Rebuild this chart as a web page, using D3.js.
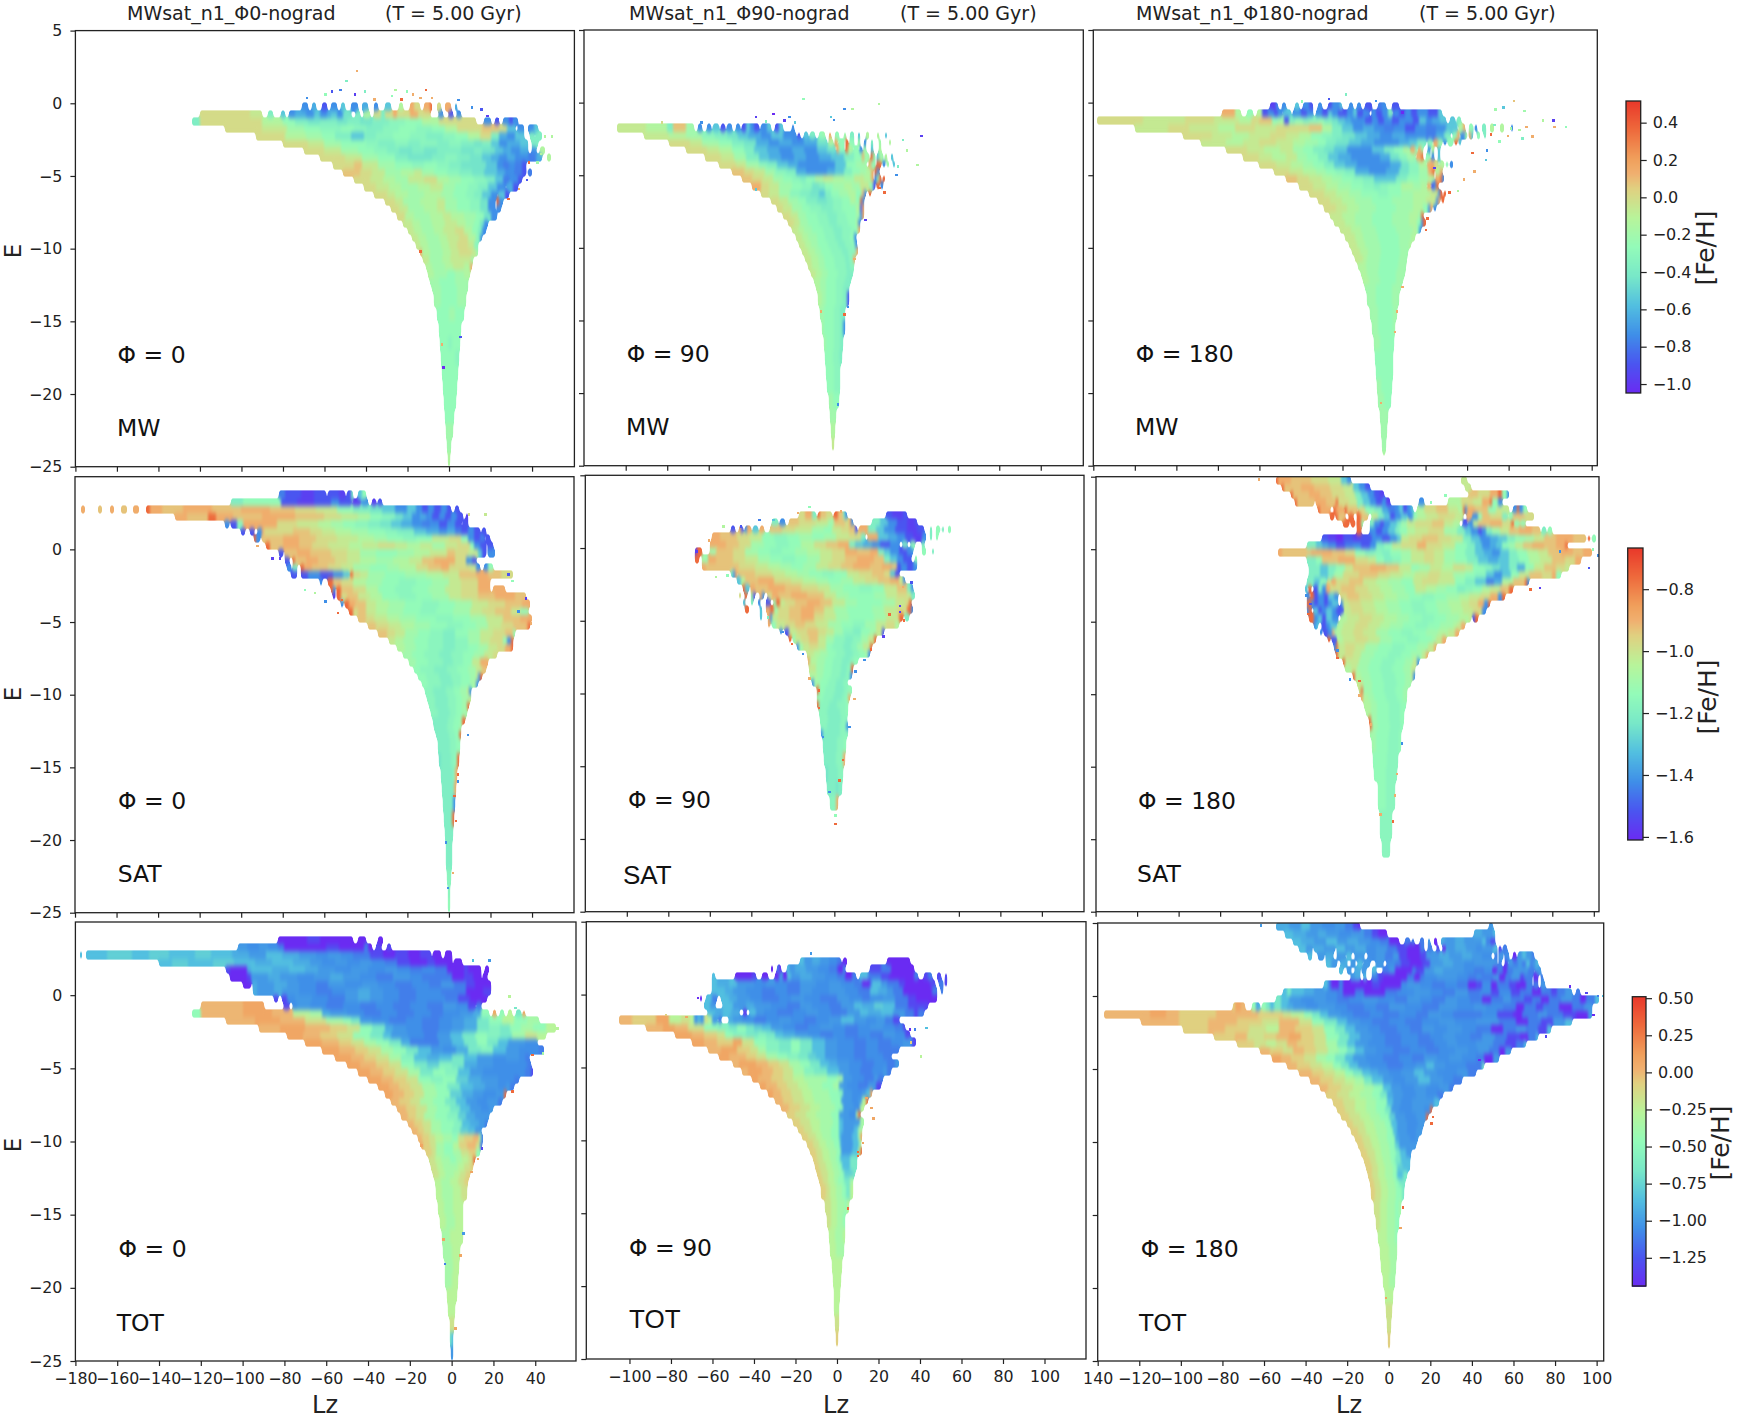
<!DOCTYPE html>
<html>
<head>
<meta charset="utf-8">
<script src="https://cdn.jsdelivr.net/npm/d3@7"></script>
<style>
html, body { margin: 0; padding: 0; background: #fff; }
text { font-family: "DejaVu Sans", sans-serif; fill: #222; }
</style>
</head>
<body>
<svg id="chart" width="1750" height="1418"></svg>
<script>
// rows: [E top of band, Lz start, runs]. runs = level letter (a..u) + width in Lz, _ = empty
// last row of each list only closes the one above. strays: [Lz, E, level]
const mw0Rows = [
[0,-71,"e3_2f2_3c2_2e3_2g2_3e3_2f3_3e2_3g3_4m2_3q2o3_2q3s1_2o2_2q3_2f1"],
[-0.5,-120,"o24n6_3i2_4g2_2e3f5e4g3e3f2g3e3h4_2i2_2m3_2o3i2o4q2o6q4o6_4e2_3c2_2e2"],
[-1,-124,"i4o30m10k6i6h6i8h5i6h6i8j8k8m8o8o10_4e3_2c2_2e3c2e2"],
[-1.5,-108,"o18n12l8k8j10k6j6i8j8k8j8k6m6o12p8o4g4_1e3_2e3g2"],
[-2,-93,"o14m10l8k6i8g6i6j8k8j8i8j6k6m6o5i4f4e4g4_3i2_1i3"],
[-2.5,-80,"o12n8l8k6k6j6i8j6i6j8i6j6i6h4i4g4e4f6g4_2i3"],
[-3,-70,"o10n8l8k8j6i6h6i6h6i6i6h6i4h6g4f4e4f4_2e2_2m2"],
[-3.5,-62,"o12n8l8k8i6h6h6i6j6i6h6g4f4e4f4e6d4f3_2m2"],
[-4,-56,"o10p4n8l8k8j6k6j6i6h6h6g5e3d3e3d3c2"],
[-4.5,-51,"p8o6n6l8m6n4l6k6j6i6h6g6f4e4_1d3c2_1d2"],
[-5,-46,"o8n6m6l6n8o6m6l6k6j6i4g4d3_1e3c2"],
[-5.5,-41,"o6n6m6l8m6n6l6k6j5i5g4e4_1f3c2"],
[-6,-36,"o6n4m6l8m8l6k6j4i4g4e3_1g3c2"],
[-6.5,-31,"o5n4l8m8n4l6k6j5h4e3_1s1e2"],
[-7,-28,"o4n4l8m6n4l6k6j5h4e3_1e2"],
[-7.5,-25,"o4m4l8m6n4m6l6k4h3e3"],
[-8,-22,"n4m4l6m6n6m4l4k3h2e2"],
[-8.5,-20,"n3m4l6m4n6o4m4k3i2e2"],
[-9,-18,"n3m4l6m4n6o4m4j2e1"],
[-9.5,-16,"n2m4l6m4n4o5n3j2"],
[-10,-14,"q1m4l6m4n4o6n2l1"],
[-10.5,-12.5,"n3l6m4n6n4l1"],
[-11,-11,"m3l6m4n5m3q1"],
[-11.5,-10,"m3l6k4l4m3"],
[-12,-9,"l4k8l6"],
[-12.5,-8,"l4k8l5"],
[-13,-7,"l3k8l4"],
[-14,-6,"k6l3k4"],
[-15,-5,"k11"],
[-16,-4.5,"k4j2k4"],
[-17,-4,"k7j2"],
[-18,-3.5,"k8"],
[-19,-3,"k7"],
[-20,-2.5,"k6"],
[-21,-2,"k4.5"],
[-22,-1.5,"l3.5"],
[-23,-1,"l2"],
[-24,-0.5,"m1"],
[-25]];
const mw0Strays = [[-45,2.3,"q"],[-11.6,1,"s"],[-18,0.7,"q"],[-14.4,0.46,"q"],[-8.9,0.46,"q"],[-23.6,0.34,"s"],[-20.8,0.9,"k"],[-26.4,1,"m"],[-50,1.6,"i"],[-57,0.9,"c"],[-53,1,"d"],[-46,0.7,"b"],[-41,0.9,"i"],[-36.5,0.34,"q"],[-28,0.6,"k"],[-69,0.46,"e"],[-60,0.7,"k"],[4,0.3,"e"],[10.5,-0.2,"e"],[15,-0.35,"c"],[18,-0.8,"b"],[23,-1,"c"],[31,-1.15,"e"],[45.6,-2.2,"m"],[49,-2.2,"m"],[43.7,-3.4,"m"],[42,-4,"l"],[38,-4,"s"],[37,-5.2,"c"],[33,-5.8,"q"],[28,-6.5,"s"],[-3.3,-18.1,"a"],[5,-16,"c"],[-4,-16.5,"q"],[-14.4,-10.1,"s"]];

const mw90Rows = [
[-1.5,-104,"n14m10i3p6l4_2e2_2e2_1g3_1c2_1e2_2e2_1c2g2e2c2_1e3g2_2c2g2_4e1"],
[-2,-91,"n12m8l8j6i6h5g5f6e5g6e6_1c1_2g2_1i2_2k2l1_2q1_2k2_2l1_2i2_2g1_3m1_4m1_3g1"],
[-2.5,-79,"o10n6l8k6i6h6f6e5f6e6f6h5_1m2_1q1_1k2_1s1_1k2_2l1_2e1_2i1_3l1_4m1"],
[-3,-71,"o10n6m6k6i5g6f6e6f6e6g5h4_1q1k2_1s1m2_1k2_1e1_1l1_2g1_3m1"],
[-3.5,-62,"o8n6l6i6g5f6e6f6e6f6g6i5k4q1l2_1s1k1_1g1l2_1m1_2g1"],
[-4,-55,"o8n5l6j4i5g5f5e6e6e6g5k5l5_1q1k2_1s2_1e1_1l1_2g1"],
[-4.5,-49,"p6o5n5l5j5i5f5e5e5f4g4i4k4l3m2q1_1s1e1"],
[-5,-44,"p5o5n5l5k4j4i3k4m4n5m5l5n5m3q1_1e1k1s1_1s1"],
[-5.5,-39,"q4o4n5l6k5j5h3i3k4l5m4l4n4k2c1_1s1_1e1"],
[-6,-35,"o4n5l5j5i5h4g3i3k4l4m4k3q1e1_1s1"],
[-6.5,-30,"o4n4l5k4i5h5i3j4k4m3k2s1e1"],
[-7,-27,"o3n4l5k4j5i6j4k7m2c1q1"],
[-7.5,-24,"o3n4l4k5j5i5j4k5l2e1q1"],
[-8,-22,"o3n3l4k5j5i4j5k4m1e1"],
[-8.5,-20,"n3m3l4k5j5i4j5k3q1"],
[-9,-18,"n3m3l4k4j5i3j4k2e1"],
[-9.5,-16.5,"n3m3l3k5j5i3j4k1e1"],
[-10,-15,"n3m3l3k5j5i3j4q1"],
[-10.5,-13.5,"n3m3l3k5j5i2j2q1"],
[-11,-12,"n2m3l3k5j5i2j2"],
[-11.5,-10.5,"n2m3l3k5j4i3"],
[-12,-9.5,"m3l3k5j4i3"],
[-12.5,-8.5,"m2l3k5j3i3"],
[-13,-7.5,"m2l2k5j3i2c1"],
[-14,-6.5,"l2k5j3i2"],
[-15,-5.5,"l1k5j3i1e1"],
[-16,-4.5,"l1k4j3i1"],
[-17,-4,"k4j3i1"],
[-18,-3.5,"k4j3"],
[-19,-2.8,"k3j3"],
[-20,-2.2,"l2k3"],
[-21,-1.6,"l3"],
[-22,-1,"m2"],
[-23,-0.6,"n1.2"],
[-24]];
const mw90Strays = [[-15,0.35,"k"],[4.8,-0.35,"e"],[8.8,-0.35,"m"],[21.4,0,"m"],[-37.7,-0.9,"b"],[-29.4,-0.7,"a"],[-33,-1.2,"i"],[-21.7,-0.9,"e"],[-24,-1.15,"b"],[-19,-1.3,"g"],[-1.6,-0.9,"g"],[-0.3,-1.1,"e"],[42,-2.2,"b"],[33,-2.5,"i"],[35,-3.2,"m"],[40,-4.2,"m"],[30.5,-4.3,"i"],[30,-4.9,"e"],[24,-6.1,"s"],[21.7,-5.8,"s"],[-64,-1.3,"e"],[-83,-1.3,"o"],[15,-8,"b"],[9.6,-10.7,"q"],[4.8,-14.5,"s"],[1.6,-20.7,"e"],[6.4,-14,"e"],[-6.4,-14.3,"q"],[-37.7,-5.9,"g"]];

const mw180Rows = [
[0,-55,"b3e1_2e2_4g2_2e3c2_2e2_3c2e4g1_3e2_2e2_2c3_3d2e2_3c3"],
[-0.5,-78,"q6m3_3k3_2m2c3e3c2e2_1g3_1e4c3e3_1e3c3g2e3c4e3g2c3e3_1e2c3e3i2_1e2c3e3c3e2e3c2c3g2"],
[-1,-138,"o22n20o14n12m6o4p6k3l3c2i3k4i3j4k3i4h3g3f3e3e4c3e3c3e4c3e4e3c3g3e3f4g3_2g2_1i2"],
[-1.5,-120,"n16o10n14m8o10n10o16p6m5i5g5e5f5e5d5e5c5e5d5e5g5_1m2q1_2k2_1e1_2i2_2m2_3m2_3e1"],
[-2,-97,"o14n10m8n10o8n6m6k5j5i5h6g6f6e6f6e5e5d5f4i3_1k2q1_1e2l1_1q1g1_2k1_2i1"],
[-2.5,-88,"n12m8n8o8n8m6l6k4i5h6g6f6e6e6f5g4i4_1k2_1q2l2_1e1_1k2_1s1_1g1"],
[-3,-76,"o10n8m8n6l5k5i5h5g6e6e6g6i5k4m3_1q2k1_1q1l1_2e1_1m1_2g1"],
[-3.5,-68,"o8n6m7n5l5k5i5g5f6e7e7f5h4j4l4_1q2s1_1k2_1e1_2g1"],
[-4,-60,"o8n7m6l5k5i5g5f6e8e8f5h4j5m3_1q3o2_1m2_1k1_1e1"],
[-4.5,-53,"o7n7m6l5k5j4i5f7e8f6h5j5l4q2s1_1m2q1"],
[-5,-47,"p5o6n6m5l5k5j5i5g6g5i5k6l4m3_1q2s1e1"],
[-5.5,-41,"o7n6m6l6k6j5i3j4k6m6l4m2_1q1_1c1e1s1"],
[-6,-36,"o7n6m6l6k8j5k6l6m8n4e1s1_1s1"],
[-6.5,-32,"o6n6m6l8k10l10m6n5e1q1_1s1"],
[-7,-29,"o6n5m6l8k10l8m5k2e1q1_1e1"],
[-7.5,-26,"n6m6l8k10l8m5k1s1"],
[-8,-24,"n5m5l8k10l8m4k2e1s1"],
[-8.5,-21,"n5m5l7k10l8m2k1e1"],
[-9,-19,"n5m4l7k10l6m2"],
[-9.5,-17,"n4m4l7k9l5m1"],
[-10,-15.5,"n4m4l6k9l4"],
[-10.5,-14,"n4m2l6k9l4"],
[-11,-12.5,"m4l6k9l4"],
[-11.5,-11,"m3l5k9l4"],
[-12,-10,"m3l5k8l3"],
[-12.5,-9,"l5k8l4"],
[-13,-8,"l4k8l3"],
[-14,-6.8,"l4k7l2"],
[-15,-5.8,"l3k7l1"],
[-16,-5,"l3k7"],
[-17,-4.5,"k9"],
[-18,-3.8,"k8"],
[-19,-3.4,"l2k5"],
[-20,-2.8,"l3k3"],
[-21,-2,"l4"],
[-22,-1.4,"l3"],
[-23,-1,"l2"],
[-24,-0.5,"m1"],
[-24.3]];
const mw180Strays = [[62,0.2,"p"],[53,-0.4,"l"],[57,-0.25,"g"],[67,-0.5,"l"],[81,-1.15,"b"],[76,-1.15,"m"],[87,-1.6,"k"],[81.5,-1.6,"q"],[68,-1.6,"q"],[71,-2.25,"q"],[51,-2.1,"s"],[59,-2.2,"q"],[66,-2.4,"i"],[55,-2.6,"k"],[49,-3.2,"e"],[42,-3.4,"s"],[48.5,-3.85,"g"],[43,-4.65,"q"],[38,-5.2,"q"],[35,-6,"m"],[31,-6.1,"s"],[23.6,-4.4,"b"],[8.4,-0.6,"a"],[-19,0.66,"i"],[-27,0.35,"c"],[-4.5,0.2,"e"],[-40,0.15,"k"],[-2,-20.6,"q"],[8.4,-12.6,"q"],[5.6,-14.3,"q"],[4.7,-15.7,"q"],[20.4,-7.9,"s"],[19.6,-8.7,"s"],[52.5,-1.45,"i"],[60.6,-1.7,"l"],[64.6,-1.8,"m"]];

const sat0Rows = [
[4,-82,"d3c8b6c6_1c5b3_1c2i1_2g2k2"],
[3.5,-105,"i6k18c8b8c8e4c6_1b3_1e3_2b2_1c2"],
[3,-177,"q2_6p2_4q2_3p3_3q3_3s2q6p10q14p14q14p12o10n10k8i8h6g6e6g4e3c3e3c3e3c2_2c2"],
[2.5,-132,"q6p10s4q8p14q16p14o8n8m6k6j6h4g4e4f3e3c3e3c3e3c3_1b1"],
[2,-108,"e2_1c3j3q16o10n10m6l6k6j6i6h5g5f5e5d4e4c4e4c3_1c2"],
[1.5,-100,"c2_2c2_2e2q1o14p8o6n6m8l8k8j6i8g6f6e4f4d3c3e3c3_1c2"],
[1,-94,"s1e2_1p10q8p8o10n10m8l6k8j6k8n8o6k3e3c3d2_1c2"],
[0.5,-88,"s2p6q8p6o8n10m6n8o8n6m6n6l6n6o6k2e3c3_1c2"],
[0,-82,"c2_1p6q6p10o8n6l8k10l8m8n8p4o6n5g2c2_1e3"],
[-0.5,-79,"c2_2s1p5q6p8o6n6m8l8m8n6p6q10o5e3c2"],
[-1,-78,"e2_1i2_2s1q4p8o6n6l8k8l6m8o6p6q4o10n3e2_2e2k2"],
[-1.5,-76,"c3_2c3e6c6e5g3_1s1o3n4l8k10l10m8n8p8q6p6o6"],
[-2,-62,"e1_3s2p4o6m6l8k8j8k8l8n6o8q6"],
[-2.5,-57,"s1e1_1s2p6o6m6k8j8k8l8n8o8q6_1q6"],
[-3,-56,"b1_1s2o3p5n6m6k8j8k8l8n6o8p8q10p5"],
[-3.5,-52,"e1_1s2q3p5n5m6l8k8j8k8l8n8o8p8q4"],
[-4,-48,"s2o2p4n5m5l8k8j8k8l8n6o6p8n4k4"],
[-4.5,-44,"p4o4n6m6l8k10j8k8l8n8p8q6"],
[-5,-39,"p4o6n6m6l8k8j8k6l6n6o6p6q1s1"],
[-5.5,-34,"p4o4n5l6k6j6i6k6l6n6o6p4k1"],
[-6,-29,"n3m4l5k7j7i6j6l6n5o6k2e2s1"],
[-6.5,-25,"m4l5k6j7i6j6k5l5n4o4q3s1"],
[-7,-22,"l4k6j7i6j6k5l5n4o2"],
[-7.5,-19,"l3k6j7i5j5k4n4q4"],
[-8,-17,"k3j7i6j5k5l4n3p2"],
[-8.5,-15,"k4j6i6j5k4l3n1e1s1"],
[-9,-13,"k3j6i6j4k4l2m1e1"],
[-9.5,-11.5,"j4i6j4k3l3n1e1"],
[-10,-10.5,"j4i6j4k3l3n1"],
[-10.5,-9.5,"j3i6j4k3l2s1"],
[-11,-8.5,"j3i6j3k3l2"],
[-11.5,-7.5,"i7j3k3l1s1"],
[-12,-7,"i6j3k3l1"],
[-12.5,-6,"i6j3k2s1"],
[-13,-5.5,"i6j3k2"],
[-14,-5,"h1i5j2k1s1"],
[-15,-4,"i6j1q1"],
[-16,-3.5,"i6q1"],
[-17,-3,"i5e1"],
[-18,-2.5,"i4s1"],
[-19,-2,"i4"],
[-20,-1.6,"i3"],
[-21,-1.2,"i2.5"],
[-22,-1,"j2"],
[-23,-0.6,"j1.2"],
[-24,-0.5,"k1"],
[-25]];
const sat0Strays = [[9,2.5,"o"],[17,2.5,"n"],[28,-1.65,"c"],[30,-2.1,"k"],[-70,-2.7,"k"],[-65,-2.9,"m"],[-60,-3.5,"e"],[-54,-4.3,"s"],[-52,-3.4,"s"],[8.5,-12.7,"e"],[3.7,-15.4,"s"],[3.7,-15.9,"e"],[2,-16.9,"s"],[2.9,-18.6,"s"],[-2,-20.1,"e"],[1.3,-22.2,"q"],[-1,-23.2,"e"],[39,-5,"q"],[38,-3.6,"q"],[36.6,-3.3,"b"],[33,-4.2,"e"],[-85.5,-0.55,"b"],[-82,-0.55,"b"],[-92.7,0.3,"q"]];

const sat90Rows = [
[2.5,-17,"o3q3i2_1s1p3o3_1s2p2i1e1_19c3b5c2"],
[2,-30,"i3_1e2_2p5o8n6l3p5o2q1e1_9i4g4e4c5b4c1"],
[1.5,-50,"c2_2q1c1_1e1q2_1g2_1q2_3p6o6n8l6k4n4o4p3c1_1q4i4g4e5c6b5c3_3i1_2k2_1i1_2k1"],
[1,-59,"q4p8o6n6k6j6k6l6k6l6n6o6i2_1q5g5f4e4c4b4e2_2i1_2k1"],
[0.5,-60,"q3_1q4p6o6l6k6j6k6m6o6p6q5i3g4f4e4c5e4_2i2_2k2_3i1"],
[0,-67,"b1s2_4l3p8o6l6k6j6k6l6m6n6o6q6p6q4i3g3e4c4e3_4k2_3i1"],
[-0.5,-67,"s2_1l2k1q4p8o6n6l6k6j6k6l6n6o6p6q8p5i3g3e3c4_2k1"],
[-1,-64,"q2p16o8n6m6l5k6l6n6o6p6q8p6q5p2c2e3c3e2"],
[-1.5,-50,"i1e1q1_1p8o8n6m6l6k6j6k6n6o6p6o3g2c2"],
[-2,-47,"g2m2p6q8o8n6m6l6k6l6n6o6p6q4n2e1"],
[-2.5,-44,"s1g2_1q2p6q8p8o8n6l6k8j6k6n6p5i2e1"],
[-3,-46,"o1_2s1_2m1c1_2q1e1_2o2q3p6q8p8n6l6k6k6l6n5o5n2i2"],
[-3.5,-44,"g1_3i1_2e1_3c2_2k1s2n2o5p6q6p6n6l6k6k6l6n5o2s1"],
[-4,-43,"s2_5g1_2q2s2l2o5p6q6p5n5l6k6k6l6n6o5s2e1"],
[-4.5,-36,"g1_3q1e1n3o5p6q6o5n6l6k6k6l6n5o1s2_1i2"],
[-5,-32,"q1_1k2n4o5p5o5n6l6k6j6l5n5o4m2"],
[-5.5,-26,"e1_1c2n4o5p5o4n4l4j5i4k4l3n3c1"],
[-6,-22,"s1_1k1n3o4p4n4l4j5i4j4l3n3s1"],
[-6.5,-18,"e1l2n3o4n4k3j5i4j3l3n3s1"],
[-7,-13,"n3m3l4k4j4i4j3k3l1e1"],
[-7.5,-12.5,"q1m3l4k4j4i4j2k2"],
[-8,-12,"n3l4k4j4i3j2s1"],
[-8.5,-11.5,"m3l3k4j4i3j2e1"],
[-9,-11,"e1l3k4j4i3j2"],
[-9.5,-8.5,"s1k3j5i4j2k2"],
[-10,-8.5,"k3j5i4j2k1q1"],
[-10.5,-8.5,"s1j5i4j4k1"],
[-11,-7.5,"j4i6j3k1"],
[-11.5,-7,"j4i6j3"],
[-12,-6.5,"j3i6j3e1"],
[-12.5,-6.5,"e1i8j4"],
[-13,-5.5,"i7j3k1"],
[-14,-5,"i6j3q1"],
[-15,-4,"h1i5j2"],
[-16,-3.4,"i4h1i2"],
[-17,-2,"j3q1"],
[-18]];
const sat90Strays = [[-12.5,2.9,"k"],[-18,2.5,"q"],[2.7,2.6,"q"],[-36.6,2,"d"],[-30,2,"g"],[-45.5,1.56,"c"],[-54,1.56,"m"],[-61,0.6,"q"],[-67,-0.16,"b"],[36.5,-2.3,"c"],[32.4,-2.6,"q"],[-57.5,-1.9,"m"],[-52,-1.8,"k"],[31,-3.9,"b"],[31,-4.3,"b"],[26,-4.5,"s"],[33,-4.9,"s"],[23,-6,"b"],[17,-6.9,"s"],[14,-7.6,"e"],[9.5,-8.4,"e"],[-25.4,-5.7,"e"],[-21,-6.5,"s"],[-15.7,-7.2,"e"],[-12.5,-8.9,"q"],[-8,-9.7,"s"],[-8,-10.9,"s"],[-6,-12.9,"e"],[6.7,-12.2,"e"],[3.5,-14.5,"s"],[-3,-16.7,"e"],[2,-15.9,"s"],[9,-10.3,"q"],[-32.6,-4.7,"i"],[0,-18.9,"s"],[0,-18.3,"k"]];

const sat180Rows = [
[5,-53,"s1q6p10o8n6g3e2_53n3"],
[4.5,-50,"s1p8q6p8o6n5g3e3c2_46n3"],
[4,-46,"s1p8q5p6o6n5i3g3e3c3b2_41p4o6q4s2k2e1"],
[3.5,-44,"s1p8_1q5p5s1o5n4i3g3e3c3e2b2_14e2_12m6o6n4q4s1k3e2"],
[3,-33,"s1q5_2s1q3_1s1p5_1o3k4i4f3d3e2g2c2e2g1_2m3o6p6n4_1m2s1e1q4p6k4n6_2e2s1e2k2"],
[2.5,-27,"s2_1s1p3_2s2_2s2p3_2n3i3g3c2e3g3_1e2k2m4n6o8n4_2q2_1e2k2p4o6i2_1k2p6o4"],
[2,-21,"s3_1s2_1s2k1_3i2e3c2e3g3i2l3n4o8p6n4m3_2c2_1e2n2p6q6o4s1_1k2_1k2"],
[1.5,-14,"s2_4e3c3e3g3i2k4m4n6o8l6i4g3e3c2e2i3l4n4p5q6p4_1i2_1k2"],
[1,-31,"c3b4a3c5b4c5e5c4e3g2n4o6p8o6n6i4g4e5f4g4i4k5l4n5p6q8p6_1s1_1k2"],
[0.5,-38,"i4g3f3e4c4d4e4c4e3i4k4n4o8q4o8n6k6i4g3e4f3g3k3l3n4p4q6p6q4s1_2"],
[0,-52,"q2p14q10p6o5k5i4j4i4k5l5n6o5n5l5k5i5g4f4e4g4i4k5m5n5p6q6p5q4"],
[-0.5,-38,"i4k3p8q8o6n4k4i4j4l5n6o5n5l5k6i5g5f5g5i5k5m5n6p6o5q3"],
[-1,-37,"i5g4i4k4n4p8q8p6n6k4l5n6m5o6n4k5j4h4g4i4f4k4n5p6o4n2"],
[-1.5,-37,"i5g4i3l4o8p9o6n6m6n6o6n6l6k5j5g4e4g4k4n5p6o5q2k2"],
[-2,-38,"i3g3k3_1o1_1q2o6p7n6m6l6k6n4o8n8k5i5g5d4f4m5p6s1e1"],
[-2.5,-39,"g1_1s1_1c2i2e2q2o5p7o6n6m6l6k5n5m5l5k5i4j4k4m4n5p4s2"],
[-3,-38,"e1_1s1c2e3c2g3e2_1o3p6o6n6m6l6k6j6k6l6m5n5o5q4e2s1"],
[-3.5,-38,"s2e1c2e3c2e2g3_1e1n3o6n6m6l6k6j6k6l6m6n4o4q3e2s1"],
[-4,-38,"e1s1_1g2c2e2g3e2c3_1n3o6n6m6l6k6j6k6l6m6n5o4e2"],
[-4.5,-37,"s2e2g2c2g3e3_1m3n6o6n6m6l6k6j6k6l6m5n1_1c1s1"],
[-5,-35,"e1g1_2c2e2g3_1m2n6o6n6m5l6k6j6k6l6m2n2q2"],
[-5.5,-32,"e1_1c2e2q1m3n6o5n6l6k6j6k6l6m5n3q2"],
[-6,-28,"s1_1c2_1m2n6o6n6l6k7j6k6l2n3q2"],
[-6.5,-25,"e1s1n3o5n5l6k7j6k6l5n3q1"],
[-7,-24,"s1n3o4n4l6k7j6k5l5n2q1"],
[-7.5,-21,"s1n3n4l5k6j6k5l4n2e1"],
[-8,-20,"m3n3l5k6j6k5l4n2"],
[-8.5,-16,"s1m3l4k6j6k5l3n1e1"],
[-9,-14,"n3l4k6j6k4l3"],
[-9.5,-13,"n1s1l4k6j5k4l2"],
[-10,-12,"q1m2l3k6j5k3l2"],
[-10.5,-10.5,"m3l3k6j5k3"],
[-11,-9.5,"m2l3k6j5k2"],
[-11.5,-8.5,"s1l3k6j5k2"],
[-12,-8,"s1l3k6j5k1"],
[-12.5,-7.8,"l3k6j5k1"],
[-13,-7,"l2k6j5k1"],
[-14,-6.5,"k7j5"],
[-15,-6,"k6j5"],
[-16,-4,"k4j4"],
[-17,-4,"k4j4"],
[-18,-3,"j6"],
[-19,-2.8,"j5.6"],
[-20,-2,"j4"],
[-21.2]];
const sat180Strays = [[-62,4.9,"q"],[28,3.8,"k"],[21,3.3,"k"],[97,-1.2,"c"],[101.5,-0.35,"e"],[99,0.05,"k"],[73.6,-2.6,"b"],[69,-2.7,"s"],[-13.5,-10,"q"],[-13.5,-9,"s"],[-8,-12,"q"],[7,-13.3,"e"],[4.7,-15.4,"q"],[3.7,-16.9,"q"],[2.6,-18.7,"s"],[-3.4,-18.2,"q"],[-24,-7.4,"s"],[-18,-8.9,"e"],[-24,-6.9,"e"],[-37,-3.7,"c"],[-39,-3.1,"e"],[-38,-4.4,"s"],[83,-0.07,"e"]];

const tot0Rows = [
[4,-83,"a14b6a16_2a4_6a2"],
[3.5,-102,"e4d6e4d5c3a20b6a12c2a2_2b2_3b2"],
[3,-178,"g1_2g10h12g8h10g12h8g10f8e8g8f8e8d6e6d6c8b6a6b6a6b5_1a4_2a3"],
[2.5,-140,"g6h8g12h10g10f8g10f8e6d6e6d6e6d6c6b6a8b4a8_1a4"],
[2,-108,"b2a8f2g10f8g8f6e8d8e8d8e6d6c6d6c6a8b2a6_2a2"],
[1.5,-106,"a8b2e8f6e8d8e8f6e8d8c8e8d6c8c6a6b4a4_1a2"],
[1,-100,"a4_1f2e8f6e6d8c6e8d8e8d8c8d8c6e6c6b4a8"],
[0.5,-95,"f2e8f4e8d8c8d6e6f6e6d8c8d6d6c6c6a8b4"],
[0,-85,"b2_2b2d4e8d8c8e6f6e6d8c8d8d6c6b6a8"],
[-0.5,-120,"p20q10_10b2_2d2e6d8c8d8c8d8c8d8c8e6d6b3_1c2"],
[-1,-124,"k4p20q14p10m8l6f4e8d8c8d8c8d8c6d8e6f4k4_2q1_2k2_2m2_2i2_1q1"],
[-1.5,-108,"p14q12p12n10l8k4i4e6d8c8d8c8d6e6f6i6k6m6k6l6"],
[-2,-92,"p10q12p12o8n6k6i6f4e6d8c8d6e6f6i6j5i5k5l6k6m5"],
[-2.5,-79,"q8p8o8n8k8i6g4e8d8c6e6g6i6k6j6i6l6n6m4"],
[-3,-70,"q8p8o6n6l6k6i6f4c8c6e6g6i6k5i5g5e8d6"],
[-3.5,-62,"q8p8o6n6l6k6i6g6e6d6f6i6j6g6e6d6d4c2"],
[-4,-56,"q8p6o6n6l6j6g6f6g6i6g6e8d6e6d3c2"],
[-4.5,-50,"q6p8o6n6k6i6h6j6i6f6e8d6d6d4c2"],
[-5,-45,"q6p6o6n6l6i6k6j6g6e6d8d8d4c3b1"],
[-5.5,-40,"q6p6o6n6k6j6k6h6f6e8d8c2"],
[-6,-35,"q5p5o5n6l6k6i6g6f6e6d4e2c2"],
[-6.5,-32,"q4p5o5n5l6k6h6f5e5d6e4s1"],
[-7,-29,"p4o5n5l6k6i5g5e5d5e5c2"],
[-7.5,-26,"p4o5n5l5k6i5g5e5d4e2"],
[-8,-24,"p3o4n4l5k6j5h4f4e4e3"],
[-8.5,-21,"p3o4n4l5k6j4g4f4e3c1"],
[-9,-19,"p3o3n3l5k5j4h4g3e3"],
[-9.5,-16,"p2o3n3m4l4k3n3o4p3l1c1"],
[-10,-14.5,"q1o3n3l4k4m3o4p4n2c1"],
[-10.5,-12.5,"o3n2l4k4l4n4o3k2"],
[-11,-11,"n3m3l4k3l3m3n2s1"],
[-11.5,-10,"n3m3l4l3m3n3o1"],
[-12,-9,"n3m3l4m3n3o2"],
[-12.5,-8,"m3l4m4n3o2"],
[-13,-7.5,"m3l5m4n3"],
[-14,-6.5,"m3l4m5"],
[-15,-5.5,"m3l4m4"],
[-16,-4.8,"l4m6"],
[-17,-4,"l4m4"],
[-18,-3.4,"l4m3"],
[-19,-3,"l3m3"],
[-20,-2.4,"m5"],
[-21,-1.8,"m3.6"],
[-22,-1,"n2"],
[-23,-0.8,"k0.6g0.8"],
[-24,-0.5,"e1"],
[-25]];
const tot0Strays = [[27,0,"m"],[30,-0.8,"i"],[17.5,2.45,"e"],[9.6,2.45,"g"],[50,-2.2,"m"],[46,-2.2,"m"],[43,-3.9,"l"],[38,-4,"s"],[28.6,-6.5,"s"],[-15,-10.2,"q"],[-3.7,-18.3,"c"],[-4.6,-16.6,"q"],[5,-16.2,"e"],[3.7,-17.7,"q"],[1.3,-22.7,"q"],[14,-10.4,"b"],[12,-11.1,"q"],[9,-12,"q"]];

const tot90Rows = [
[2.5,-18,"g2e4f4e4d4c2_1a2_19a11"],
[2,-32,"a1_2c1a1_3g1e3f5e6d5c4b1a2d1_12b5c5a11"],
[1.5,-60,"g1_10a8b2_3a3_3a2e2a2g2e4f6e6d6c4a3c2_2g4c6b4a12c2_3b2c2_2b2_2b1"],
[1,-60,"g2f6g4e8d6e4d6c6e8d6e6d6c4a4c1g4e3c6b3a12b2_2c2_1b1"],
[0.5,-60,"g6f4e6d8c6d6c6e6d8e8d6c6g4f4e3c5a14c2_2c1"],
[0,-66,"a1_2g3c2_2g4f4e6d6c8d6e6d8c8e6d6c4d6e6c6b4a10"],
[-0.5,-64,"g3e2_4g5e6f4e8d8c6e6d8c6e6g4f6h4g6c6b10"],
[-1,-62,"g3f4g4f4_2a1_2g3e4d6c8d6e6d6c8e6g4f6g6e6c4b2c3"],
[-1.5,-105,"p6o12q6m6n4m2e2g1e2n2m2e2_1c1_4f2e4d6c6d6e6d6c6d6e6g6e6d5e4c4b3"],
[-2,-92,"p8q6p6n8k6j6i4k4i4h4g4e6d6c6d6e6d6c6d6e6d6c4b1"],
[-2.5,-78,"q8p6o6n4k4j6i6j4i4g4f6e6d6c6d6c6d6c6e6d5b2"],
[-3,-70,"q6p6o8q4n6k6j6i6k4i6g6e6d8c6d6c6d6e4b2"],
[-3.5,-62,"p6q8o6n4l4j6i6k4i6g6e6d8c6d6c8c2"],
[-4,-57,"q5p8o5n5l5k5j5i5h4g4e6d8c6d8c4"],
[-4.5,-50,"p3q8p6o5n5l5k5i5g4f4e6d6c6d6c4e2"],
[-5,-46,"p3q7p5o5n5l5j5i6g6e5d5c6d5e2c2"],
[-5.5,-41,"q3p6o6n5m5l5l6k5l3e4d6c5e2c2"],
[-6,-37,"q3p5o5n5m5l7k5l3e4d5c5e4b2"],
[-6.5,-33,"q2p4o5n5m5l8k5j2e4d5e2g2q1"],
[-7,-30,"p4o5n5m5l8k5e5d3e2m2s1"],
[-7.5,-27,"p4o5n5m5l7k4e5d3m2"],
[-8,-24,"o4n5m5l7k4e5d3m1s1"],
[-8.5,-21,"o3n5m5l6k3g2e5e3l2"],
[-9,-19,"o3n4m4l5k4g2e5g2l2"],
[-9.5,-17,"o3n4m3l4k4g1e5g3l1q1"],
[-10,-14.5,"o3n3m3l4k3f1e5g3l1"],
[-10.5,-13,"o3n3m3l4k2e5g3m1s1"],
[-11,-11.5,"o2n3m3l3k2g5i3"],
[-11.5,-10.5,"o2n3m3l3k2g4i3"],
[-12,-9.5,"o2n3m3l3k2h4i1"],
[-12.5,-8.5,"o2n2m3l2k3i3l1"],
[-13,-7.5,"o2n2m3l3k2i2m1"],
[-14,-6,"n3m3l4k1m1"],
[-15,-5,"n2m3l3k1"],
[-16,-4,"m3l4m1"],
[-17,-3.5,"m3l4"],
[-18,-2.5,"m5"],
[-19,-2,"m4"],
[-20,-1.6,"m3"],
[-21,-1.2,"m2.4"],
[-22,-0.8,"n1.6"],
[-23,-0.5,"o1"],
[-24.2]];
const tot90Strays = [[-13,2.9,"e"],[42.5,-2.2,"g"],[40,-4.15,"m"],[35,-3.2,"o"],[-83,-1.3,"o"],[-73,-1.45,"q"],[-67.5,-0.15,"a"],[16,-7.7,"q"],[17,-8.4,"q"],[9.6,-10.7,"s"],[9.6,-11,"s"],[4.8,-14.6,"s"],[13.6,-7,"q"],[12,-10.1,"q"],[34.5,-2.3,"a"],[37,-2.3,"c"]];

const tot180Rows = [
[5,-54,"f6e6g4e6d6e5c4b2a1_62e2"],
[4.5,-50,"g4f6e6f4e6d6e6c4b3a4_42f4e5g1"],
[4,-46,"g4f6e6g5e5f5e6d5c4a5_3c2_1c1_3c2_2e1_2a1_2f2e5f4e5e4g2c1_1b2"],
[3.5,-43,"g3e3_1f5e5_1g4e5f5d5e5c5b5a6c2_2c2_2b1_2a1_1e4f5e5d3e5g2_1b1_1c2"],
[3,-39,"g2_3e3_1f3_2e4_1g2_2e4_2d4e4c4e3b4a6b3e6f5e6f5e5d4_2c1_1e2_1d2_2a1_1e2g2e3c1"],
[2.5,-30,"g2e3_2f3_2e2_1g2_1e3_3e3_2d4c3b4a6b4e6f5e5d5e5e6_1c1_2b1_1e2c2e2c2g2c1e2g1"],
[2,-24,"g2_2e2_2f2_1e2_3g2_3c3e3a8c2b4e5f4e5e5d5c5d3_1a2c3a2c3e3e4c3_1e2"],
[1.5,-18,"e2f2_2g1_3c3b2a12c3a3c2d6e5e5d5c4d3c5e3a3c3e4b2c4_1a2_1c1"],
[1,-31,"g2c1a4c2a14b4a10d3e6d6c6d6c5a4b3d4a3c6b3a5c3_1c2_1e2"],
[0.5,-51,"g2i2g6f5e6d5c3a6c4a10c6d8e8d6c6e6c6d5b4d6b4c6a4c5b3c4e3_2c2"],
[0,-54,"i2g4e6d6e6d5c6d6e8d8c6e6d6c6e6d6c6a4c6e4c6b4c4a4c6e5c4a3c4g2"],
[-0.5,-75,"o1q3p2_3k2e1g1_1k2i2g2i3g3f3e6d6e8d6c8d6c6e8d8c8e9d8e6d8c6a4c6b3c8a6c6e4"],
[-1,-137,"p22q8p6o18p20o12n4m6k4i4g4e6d6c8d6c8d8c6e6d6c6c8d7b8a4c8e4c8b6a6e2"],
[-1.5,-119,"p18o14p14o12n8p10n6k6i6g5e6d6c8d8c8d8e8d10e11c8a6c6b6e6g3"],
[-2,-99,"o12p8o12n8m6p8o8n6k5i5g5e6d6c8d6c6e6d6e7d7c7a6c6e5c6b4g2"],
[-2.5,-84,"o10p6n8o6p6q6o6n6k6i5g5e6d6c8d8c6d6e6d7c6e6c6b6a4c4g1"],
[-3,-73,"o8n6m5n5p5o8n6l5i5g4e6d8c8d8c8d6e5d9e8c6b5c4g1"],
[-3.5,-62,"p5o6n5p5o6n6l5k4i4g4e6d8c8d8c6d8e6d5e5c5a3e3"],
[-4,-56,"q4p5o6n6l5k4i5g4e6d8c8d6c6e6d6e6d7c4a4e3"],
[-4.5,-49,"p5o6n6m5k4i4g4e6d8c8d6e5g4e5d5d5c8i1"],
[-5,-43,"p6o6n5m5k4i4g4f4e5d6e6g5e6d5d5e5c4"],
[-5.5,-38,"p5o6n6m5l4i4g5e5d6e6g6e6d5c4"],
[-6,-33,"p4o6n6m5l5k4g4e5d6e6d6e5c2"],
[-6.5,-30,"o5n6m5l6k4i3f3e5d6e5d5c3"],
[-7,-27,"o5n6m5l5k5g3e4d5e6e5g2"],
[-7.5,-25,"o4n5m5l5k4i3e4d6e6d3s1"],
[-8,-23,"o4n5m5l5k4h3e5d5e5s1"],
[-8.5,-20,"o3n5m5l5k3g3e5d5e3"],
[-9,-18,"o3n4m5l5k3g2e5d4e3"],
[-9.5,-16,"o3n4m4l4k4f2e5d3e1"],
[-10,-15,"o3n4m4l4k3h2e6e2"],
[-10.5,-13.5,"o3n4m3l4k3i2g3e2"],
[-11,-12,"o3n3m3l4k2i3g4"],
[-11.5,-11,"o3n3m3l4k2h3g3"],
[-12,-10,"o2n3m3l4k2g3i2"],
[-12.5,-9,"o2n3m3l4k2i3"],
[-13,-8.5,"o2n3m3l4k3i1"],
[-14,-7,"n3m3l4k2l1"],
[-15,-6,"n2m3l4k2"],
[-16,-5,"m4l4k1"],
[-17,-4,"m4l4"],
[-18,-3.5,"m4l3"],
[-19,-3,"m3l3"],
[-20,-2,"m4"],
[-21,-1.5,"n3"],
[-22,-1,"n2"],
[-23,-0.5,"o1"],
[-24.2]];
const tot180Strays = [[-62,4.9,"e"],[29,3.85,"e"],[100,0.07,"c"],[102.6,0.07,"g"],[98,-1.2,"a"],[20.7,-8.2,"s"],[20,-8.65,"s"],[6.3,-14.4,"s"],[5,-15.8,"q"],[-2,-20.6,"q"],[86.6,0.75,"a"],[94.6,0.3,"b"],[75,-2.7,"b"],[43,-4.3,"a"]];

const eTicks = [5, 0, -5, -10, -15, -20, -25];
const lzTicksLeft = [-180, -160, -140, -120, -100, -80, -60, -40, -20, 0, 20, 40];
const lzTicksMid = [-100, -80, -60, -40, -20, 0, 20, 40, 60, 80, 100];
const lzTicksRight = [-140, -120, -100, -80, -60, -40, -20, 0, 20, 40, 60, 80, 100];
const cbarTicksMw = [0.4, 0.2, 0, -0.2, -0.4, -0.6, -0.8, -1];
const cbarTicksSat = [-0.8, -1, -1.2, -1.4, -1.6];
const cbarTicksTot = [0.5, 0.25, 0, -0.25, -0.5, -0.75, -1, -1.25];
const norms = {mw: [-1.048, 0.516], sat: [-1.61, -0.667], tot: [-1.44, 0.51]};
// colormap
const cmapStops = [0, 0.1, 0.2, 0.3, 0.4, 0.5, 0.6, 0.7, 0.75, 0.8, 0.9, 1];
const cmapColors = ["#6a2bf2", "#4a55f0", "#3f8fe8", "#52bfe0", "#78e8c8", "#93fbb9", "#b8f49a", "#e0d080", "#f0b070", "#f0a05c", "#ee6a3c", "#e9382a"];
// letter a..u -> position in the colormap
const levelsMwSat = [0, 0.05, 0.1, 0.17, 0.2, 0.26, 0.32, 0.39, 0.43, 0.47, 0.5, 0.54, 0.58, 0.63, 0.67, 0.72, 0.76, 0.82, 0.9, 0.95, 1];
const levelsTot = [0, 0.07, 0.17, 0.2, 0.22, 0.26, 0.3, 0.34, 0.4, 0.45, 0.5, 0.55, 0.6, 0.65, 0.7, 0.74, 0.78, 0.85, 0.9, 0.95, 1];

const svg = d3.select("#chart");
const cmap = d3.scaleLinear().domain(cmapStops).range(cmapColors).interpolate(d3.interpolateRgb);

const parseRuns = (row, next) => {
    const out = [];
    if (row.length < 3) return out;
    let lz = row[1];
    for (const m of row[2].matchAll(/([a-u_])([\d.]+)/g)) {
        const w = +m[2];
        if (m[1] !== "_") out.push({lz, w, top: row[0], h: row[0] - next[0], level: m[1]});
        lz += w;
    }
    return out;
};

const levelValue = (code, norm, levels) => norm[0] + levels[code.charCodeAt(0) - 97] * (norm[1] - norm[0]);

const panels = [
    {rows: mw0Rows, strays: mw0Strays, norm: "mw", box: [75.4, 574.4, 30.6, 466.7], lz: [-180, 60.4], ticks: lzTicksLeft, col: 0, row: 0},
    {rows: mw90Rows, strays: mw90Strays, norm: "mw", box: [584, 1083.3, 30, 465.7], lz: [-120.1, 120.5], ticks: lzTicksMid, col: 1, row: 0},
    {rows: mw180Rows, strays: mw180Strays, norm: "mw", box: [1093.3, 1597.3, 30, 465.7], lz: [-140, 102.7], ticks: lzTicksRight, col: 2, row: 0},
    {rows: sat0Rows, strays: sat0Strays, norm: "sat", box: [75, 574, 476.7, 912.7], lz: [-180, 60.2], ticks: lzTicksLeft, col: 0, row: 1},
    {rows: sat90Rows, strays: sat90Strays, norm: "sat", box: [585.3, 1084, 475.3, 911.7], lz: [-120, 120.3], ticks: lzTicksMid, col: 1, row: 1},
    {rows: sat180Rows, strays: sat180Strays, norm: "sat", box: [1096, 1599, 476.7, 911.7], lz: [-139.8, 102.5], ticks: lzTicksRight, col: 2, row: 1},
    {rows: tot0Rows, strays: tot0Strays, norm: "tot", box: [75.4, 576, 922, 1361], lz: [-180, 59.5], ticks: lzTicksLeft, col: 0, row: 2},
    {rows: tot90Rows, strays: tot90Strays, norm: "tot", box: [586.3, 1086, 921.7, 1359], lz: [-120.8, 120], ticks: lzTicksMid, col: 1, row: 2},
    {rows: tot180Rows, strays: tot180Strays, norm: "tot", box: [1097.7, 1603.7, 923, 1361], lz: [-140, 103.4], ticks: lzTicksRight, col: 2, row: 2}
];

const fmt = d => d3.format("")(d).replace("-", "\u2212");

// softens the band edges of the coarse cells
const defs = svg.append("defs");
const soft = defs.append("filter").attr("id", "soft")
    .attr("filterUnits", "userSpaceOnUse").attr("x", 0).attr("y", 0).attr("width", 1750).attr("height", 1418)
    .attr("color-interpolation-filters", "sRGB");
soft.append("feGaussianBlur").attr("stdDeviation", "1 2.6");
soft.append("feComponentTransfer").append("feFuncA").attr("type", "linear").attr("slope", 5).attr("intercept", -1.5);

panels.forEach((p, idx) => {
    const [l, r, t, b] = p.box;
    const x = d3.scaleLinear().domain(p.lz).range([l, r]);
    const y = d3.scaleLinear().domain([-25, 5]).range([b, t]);
    const norm = norms[p.norm];
    const levels = p.norm === "tot" ? levelsTot : levelsMwSat;
    const color = d3.scaleLinear().domain(norm).range([0, 1]);
    const fill = code => cmap(color(levelValue(code, norm, levels)));

    defs.append("clipPath").attr("id", `clip${idx}`).append("rect")
        .attr("x", l).attr("y", t).attr("width", r - l).attr("height", b - t);
    const holder = svg.append("g").attr("clip-path", `url(#clip${idx})`);

    const cells = p.rows.flatMap((row, i) => i < p.rows.length - 1 ? parseRuns(row, p.rows[i + 1]) : []);
    holder.append("g").attr("filter", "url(#soft)").attr("shape-rendering", "crispEdges")
        .selectAll("rect")
        .data(cells)
        .join("rect")
        .attr("x", d => x(d.lz))
        .attr("y", d => y(d.top))
        .attr("width", d => x(d.lz + d.w) - x(d.lz))
        .attr("height", d => y(d.top - d.h) - y(d.top))
        .attr("fill", d => fill(d.level));
    holder.append("g").attr("shape-rendering", "crispEdges")
        .selectAll("rect")
        .data(p.strays)
        .join("rect")
        .attr("x", d => x(d[0]))
        .attr("y", d => y(d[1]))
        .attr("width", x(1.2) - x(0))
        .attr("height", y(-0.17) - y(0))
        .attr("fill", d => fill(d[2]));

    // axes
    const xAxis = d3.axisBottom(x).tickValues(p.ticks).tickSize(5).tickPadding(7).tickSizeOuter(0);
    xAxis.tickFormat(p.row === 2 ? (d => (p.col === 2 && d === -140) ? "140" : fmt(d)) : "");
    const yTicks = (p.col === 0 && p.row > 0) ? eTicks.slice(1) : eTicks;
    const yAxis = d3.axisLeft(y).tickValues(p.col === 0 ? yTicks : eTicks).tickSize(5).tickPadding(8).tickSizeOuter(0)
        .tickFormat(p.col === 0 ? fmt : "");
    for (const [ax, tr] of [[xAxis, `translate(0,${b})`], [yAxis, `translate(${l},0)`]]) {
        const a = svg.append("g").attr("transform", tr).call(ax);
        a.select(".domain").remove();
        a.selectAll("line").attr("stroke", "#222").attr("stroke-width", 1.2);
        a.selectAll("text").attr("font-family", "DejaVu Sans").attr("font-size", 15.8).attr("fill", "#222");
    }
    svg.append("rect").attr("x", l).attr("y", t).attr("width", r - l).attr("height", b - t)
        .attr("fill", "none").attr("stroke", "#222").attr("stroke-width", 1.3);
});

// titles
const titleRuns = [["MWsat_n1_\u03a60-nograd", 127], ["(T = 5.00 Gyr)", 385], ["MWsat_n1_\u03a690-nograd", 629], ["(T = 5.00 Gyr)", 900], ["MWsat_n1_\u03a6180-nograd", 1136], ["(T = 5.00 Gyr)", 1419]];
svg.selectAll("text.title").data(titleRuns).join("text").attr("class", "title")
    .attr("x", d => d[1]).attr("y", 20).attr("font-size", 19).text(d => d[0]);

// labels inside the panels
const phiLabels = [["\u03a6 = 0", 117.5, 362.7], ["\u03a6 = 90", 626.7, 362], ["\u03a6 = 180", 1135.7, 362], ["\u03a6 = 0", 118, 809], ["\u03a6 = 90", 628, 808], ["\u03a6 = 180", 1138, 809], ["\u03a6 = 0", 118.6, 1256.7], ["\u03a6 = 90", 629, 1255.7], ["\u03a6 = 180", 1140.7, 1257]];
const setLabels = [["MW", 117, 436], ["MW", 626, 435], ["MW", 1135, 435], ["SAT", 117.7, 882], ["SAT", 623, 884, 1], ["SAT", 1137, 881.7], ["TOT", 116.7, 1330.7], ["TOT", 629, 1327.7, 1], ["TOT", 1139, 1330.7]];
svg.selectAll("text.lab").data(phiLabels.concat(setLabels)).join("text").attr("class", "lab")
    .attr("x", d => d[1]).attr("y", d => d[2]).attr("font-size", d => d[3] ? 26 : 23.5)
    .style("font-family", d => d[3] ? "'Liberation Sans'" : null)
    .style("fill", "#111").text(d => d[0]);

const axisLabel = (s, xp, yp, rot, size) => svg.append("text")
    .attr("transform", `translate(${xp},${yp})` + (rot ? " rotate(-90)" : ""))
    .attr("text-anchor", "middle").attr("font-size", size).text(s);
[251, 694, 1145].forEach(yp => axisLabel("E", 21, yp, true, 23));
[325, 836, 1349].forEach(xp => axisLabel("Lz", xp, 1413, false, 24));

// colorbars
const cbars = [
    {norm: "mw", ticks: cbarTicksMw, box: [1626, 1640.7, 101, 393], lab: [1714, 248], fixed: 1},
    {norm: "sat", ticks: cbarTicksSat, box: [1627.7, 1643, 548, 840], lab: [1716, 697], fixed: 1},
    {norm: "tot", ticks: cbarTicksTot, box: [1632.3, 1646, 996.7, 1286], lab: [1729, 1143], fixed: 2}
];
cbars.forEach(c => {
    const [l, r, t, b] = c.box;
    const n = norms[c.norm];
    const y = d3.scaleLinear().domain(n).range([b, t]);
    const pos = d3.scaleLinear().domain(n).range([0, 1]);
    const steps = d3.range(t, b, 1);
    svg.append("g").attr("shape-rendering", "crispEdges")
        .selectAll("rect").data(steps).join("rect")
        .attr("x", l).attr("y", d => d).attr("width", r - l).attr("height", 1.2)
        .attr("fill", d => cmap(pos(y.invert(d + 0.5))));
    const a = svg.append("g").attr("transform", `translate(${r},0)`)
        .call(d3.axisRight(y).tickValues(c.ticks).tickSize(6).tickPadding(6).tickSizeOuter(0)
            .tickFormat(d => d3.format(`.${c.fixed}f`)(d).replace("-", "\u2212")));
    a.select(".domain").remove();
    a.selectAll("line").attr("stroke", "#222").attr("stroke-width", 1.2);
    a.selectAll("text").attr("font-family", "DejaVu Sans").attr("font-size", 16).attr("fill", "#222");
    svg.append("rect").attr("x", l).attr("y", t).attr("width", r - l).attr("height", b - t)
        .attr("fill", "none").attr("stroke", "#222").attr("stroke-width", 1.3);
    axisLabel("[Fe/H]", c.lab[0], c.lab[1], true, 25);
});
</script>
</body>
</html>
